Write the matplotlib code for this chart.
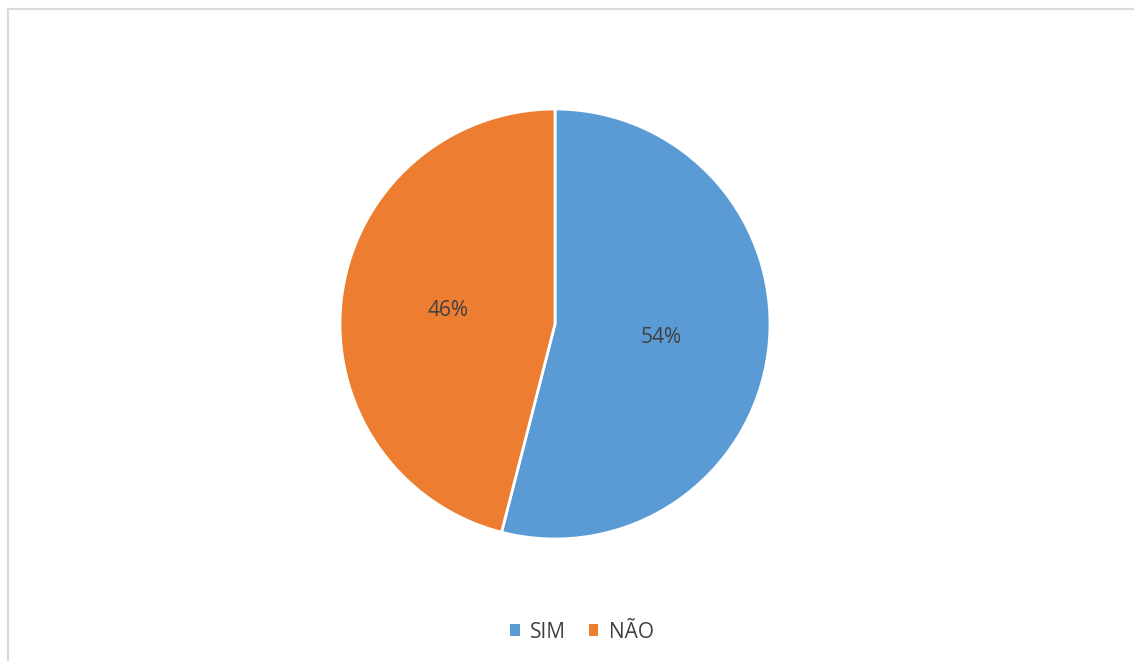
import matplotlib.pyplot as plt
from matplotlib.lines import Line2D
from matplotlib.patches import Patch

labels = ["SIM", "NÃO"]
values = [54, 46]
colors = ["#5B9BD5", "#ED7D31"]
text_color = "#404040"

plt.rcParams["font.family"] = ["Open Sans", "DejaVu Sans"]

fig = plt.figure(figsize=(11.34, 6.61), dpi=100)

# pie centred at (555, 324) px, radius 215 px
ax = fig.add_axes([(555 - 215) / 1134, 1 - (324 + 215) / 661, 430 / 1134, 430 / 661])
wedges, texts, autotexts = ax.pie(
    values,
    colors=colors,
    startangle=90,
    counterclock=False,
    autopct="%1.0f%%",
    pctdistance=0.5,
    wedgeprops=dict(edgecolor="white", linewidth=2),
    textprops=dict(color=text_color, fontsize=15),
)
ax.set_xlim(-1, 1)
ax.set_ylim(-1, 1)
ax.set_aspect("equal")

# chart frame (top and left edges visible)
fig.add_artist(Line2D([8 / 1134, 1], [1 - 8.5 / 661, 1 - 8.5 / 661], color="#D9D9D9", linewidth=1.5))
fig.add_artist(Line2D([8 / 1134, 8 / 1134], [0, 1 - 8.5 / 661], color="#D9D9D9", linewidth=1.5))

handles = [Patch(facecolor=c, edgecolor="none") for c in colors]
fig.legend(
    handles,
    labels,
    loc="center",
    bbox_to_anchor=(582 / 1134, 1 - 632 / 661),
    ncol=2,
    frameon=False,
    fontsize=15,
    labelcolor=text_color,
    handlelength=0.45,
    handleheight=0.45,
    handletextpad=0.5,
    columnspacing=1.1,
)

fig.savefig("out.png", dpi=100)
